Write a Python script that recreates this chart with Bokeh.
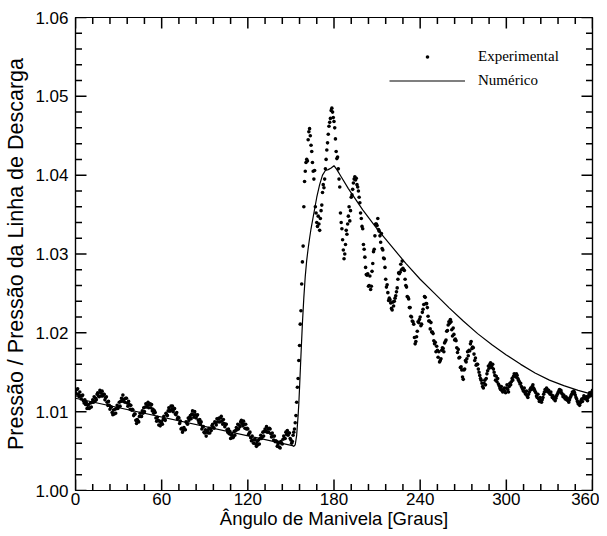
from bokeh.plotting import figure
from bokeh.models import (LinearAxis, Legend, LegendItem, ColumnDataSource,
                          PrintfTickFormatter, Range1d, SingleIntervalTicker)
from bokeh.embed import file_html
from bokeh.resources import INLINE

# ---------------- data ----------------
# Experimental: pressure ratio, sampled every 0.5 deg from 0 to 360,
# stored as (ratio - 1) * 10000
exp_step = 0.5
exp_vals = [
    127, 123, 128, 129, 122, 119, 125, 120, 116, 120, 121, 114, 111, 115, 109, 112, 104, 108, 109, 104,
    105, 111, 106, 112, 115, 112, 119, 113, 117, 115, 122, 124, 120, 119, 127, 124, 120, 126, 120, 122,
    122, 115, 118, 119, 112, 108, 113, 108, 103, 106, 106, 99, 96, 102, 97, 103, 98, 104, 108, 104,
    106, 112, 107, 113, 117, 114, 121, 113, 116, 112, 117, 117, 111, 107, 113, 109, 103, 108, 102, 103,
    102, 95, 97, 97, 89, 85, 90, 88, 87, 94, 98, 94, 94, 101, 98, 105, 100, 106, 110, 106,
    108, 112, 105, 109, 110, 105, 109, 101, 103, 98, 101, 99, 92, 88, 93, 89, 83, 88, 82, 86,
    87, 84, 90, 94, 90, 89, 98, 96, 95, 101, 105, 101, 101, 107, 103, 107, 100, 103, 104, 97,
    96, 99, 91, 93, 92, 85, 88, 78, 79, 74, 77, 80, 77, 77, 87, 86, 84, 92, 89, 93,
    95, 91, 97, 101, 96, 93, 100, 96, 92, 95, 96, 89, 86, 90, 84, 87, 78, 81, 81, 74,
    73, 77, 69, 74, 76, 73, 79, 73, 78, 76, 82, 84, 80, 79, 87, 86, 83, 91, 87, 91,
    92, 87, 92, 94, 88, 84, 90, 85, 81, 84, 84, 77, 74, 78, 72, 75, 66, 70, 71, 67,
    68, 75, 70, 76, 80, 77, 84, 78, 83, 81, 87, 89, 85, 82, 88, 84, 79, 84, 78, 79,
    78, 71, 73, 74, 67, 63, 69, 64, 60, 64, 65, 59, 56, 62, 58, 64, 59, 66, 70, 66,
    68, 74, 69, 75, 78, 75, 81, 74, 78, 74, 79, 78, 72, 68, 73, 69, 64, 69, 62, 63,
    62, 56, 59, 61, 55, 54, 62, 60, 59, 65, 69, 66, 66, 74, 71, 76, 70, 73, 73, 66,
    64, 60, 62, 70, 74, 78, 86, 95, 112, 131, 142, 165, 184, 211, 228, 262, 290, 310, 360, 392,
    405, 416, 420, 418, 445, 455, 459, 450, 438, 430, 416, 405, 395, 406, 360, 352, 340, 335, 348, 338,
    330, 345, 355, 362, 378, 388, 384, 395, 408, 420, 432, 441, 452, 462, 467, 472, 482, 485, 480, 473,
    468, 460, 446, 430, 421, 423, 408, 395, 385, 352, 340, 332, 318, 305, 294, 300, 312, 330, 325, 338,
    348, 360, 342, 355, 372, 375, 382, 390, 395, 398, 394, 396, 388, 385, 380, 372, 365, 352, 345, 335,
    332, 312, 306, 296, 283, 274, 273, 275, 259, 260, 272, 255, 259, 278, 288, 303, 306, 323, 338, 338,
    336, 345, 331, 329, 323, 315, 326, 307, 305, 295, 294, 283, 268, 258, 261, 251, 241, 244, 242, 238,
    231, 229, 239, 234, 240, 244, 247, 252, 257, 268, 276, 275, 277, 287, 280, 291, 282, 280, 279, 268,
    260, 258, 246, 245, 243, 232, 232, 221, 220, 215, 214, 211, 194, 186, 189, 195, 202, 214, 213, 217,
    220, 209, 211, 226, 230, 236, 246, 245, 237, 237, 232, 221, 215, 215, 205, 213, 201, 201, 199, 190,
    186, 188, 176, 183, 178, 169, 176, 163, 165, 167, 178, 181, 180, 176, 187, 189, 191, 202, 203, 210,
    214, 212, 217, 214, 204, 196, 206, 198, 191, 192, 190, 181, 175, 179, 168, 169, 156, 157, 153, 144,
    141, 153, 154, 165, 163, 167, 176, 171, 178, 177, 186, 189, 180, 182, 181, 173, 165, 168, 159, 160,
    160, 154, 150, 146, 142, 140, 136, 132, 130, 136, 140, 134, 142, 148, 152, 158, 155, 160, 162, 158,
    156, 160, 154, 150, 146, 140, 145, 138, 142, 135, 133, 130, 128, 132, 127, 125, 128, 130, 126, 124,
    130, 134, 128, 125, 132, 136, 134, 138, 142, 140, 145, 148, 146, 144, 148, 146, 142, 140, 138, 135,
    136, 132, 130, 128, 126, 130, 124, 122, 126, 120, 118, 122, 125, 128, 130, 128, 132, 134, 130, 128,
    126, 124, 120, 118, 122, 116, 113, 118, 114, 112, 115, 118, 122, 125, 128, 126, 130, 128, 125, 127,
    124, 122, 125, 121, 118, 120, 116, 118, 114, 117, 120, 122, 124, 126, 128, 125, 127, 124, 122, 119,
    121, 118, 116, 119, 115, 117, 114, 112, 115, 118, 120, 122, 125, 123, 126, 124, 121, 118, 116, 113,
    110, 112, 108, 111, 114, 116, 113, 117, 120, 118, 116, 119, 117, 114, 118, 121, 124, 120, 122, 125,
    127,
]

# Numerical solution: crank angle [deg] and (ratio - 1) * 10000
num_angle = [0, 151, 152, 153, 154, 155, 155.5, 156, 157, 158, 159, 160, 161, 162, 163, 164,
             166, 168, 170, 172, 174, 176, 178, 180, 182, 185, 190, 200, 210, 220, 230, 240,
             250, 260, 270, 280, 290, 300, 310, 320, 330, 340, 350, 360]
num_vals = [117, 57, 56, 58, 70, 95, 110, 130, 172, 212, 245, 272, 292, 307, 320, 332,
            352, 372, 388, 400, 406, 407, 409, 412, 407, 398, 383, 356, 332, 310, 288, 268,
            250, 232, 215, 199, 185, 172, 160, 149, 140, 133, 127, 122]

x_min, x_max, x_major, x_minor = 0, 360, 60, 12
y_min, y_max, y_major, y_minor = 1.00, 1.06, 0.01, 0.002

exp_angle = [i * exp_step for i in range(len(exp_vals))]
exp_ratio = [1 + v / 10000 for v in exp_vals]
num_ratio = [1 + v / 10000 for v in num_vals]

# ---------------- figure ----------------
SANS = "Liberation Sans"
SERIF = "Liberation Serif"
W, H = 599, 536
BL, BR, BT, BB = 75, 7, 17, 46
FRAME_W, FRAME_H = W - BL - BR, H - BT - BB
MAJ_LEN, MIN_LEN = 11, 6.5   # tick lengths in pixels

p = figure(width=W, height=H, x_range=Range1d(x_min, x_max), y_range=Range1d(y_min, y_max),
           output_backend="svg", toolbar_location=None,
           min_border_left=BL, min_border_right=BR, min_border_top=BT, min_border_bottom=BB)
p.grid.visible = False
p.outline_line_color = "black"
p.outline_line_width = 1.2
p.background_fill_color = "white"
p.border_fill_color = "white"

src_exp = ColumnDataSource(dict(x=exp_angle, y=exp_ratio))
src_num = ColumnDataSource(dict(x=num_angle, y=num_ratio))

r_exp = p.scatter(x="x", y="y", source=src_exp, size=3.6, color="black", line_width=0)
r_num = p.line(x="x", y="y", source=src_num, line_color="black", line_width=1.2)

# inward tick marks on all four sides
n_x = int(round((x_max - x_min) / x_minor))
n_y = int(round((y_max - y_min) / y_minor))
xt_all = [x_min + i * x_minor for i in range(n_x + 1)]
yt_all = [y_min + i * y_minor for i in range(n_y + 1)]
ratio_x = x_major / x_minor
ratio_y = y_major / y_minor
xt_len = [(MAJ_LEN if i % round(ratio_x) == 0 else MIN_LEN) for i in range(n_x + 1)]
yt_len = [(MAJ_LEN if i % round(ratio_y) == 0 else MIN_LEN) for i in range(n_y + 1)]
dy_per_px = (y_max - y_min) / FRAME_H
dx_per_px = (x_max - x_min) / FRAME_W

tx0, ty0, tx1, ty1 = [], [], [], []
for xv, L in zip(xt_all, xt_len):
    tx0 += [xv, xv]
    tx1 += [xv, xv]
    ty0 += [y_min, y_max]
    ty1 += [y_min + L * dy_per_px, y_max - L * dy_per_px]
for yv, L in zip(yt_all, yt_len):
    ty0 += [yv, yv]
    ty1 += [yv, yv]
    tx0 += [x_min, x_max]
    tx1 += [x_min + L * dx_per_px, x_max - L * dx_per_px]
ticks_src = ColumnDataSource(dict(x0=tx0, y0=ty0, x1=tx1, y1=ty1))
p.segment(x0="x0", y0="y0", x1="x1", y1="y1", source=ticks_src,
          line_color="#000000", line_width=1.5, line_alpha=1.0)


def style_axis(ax, labels=True):
    ax.axis_line_color = "black"
    ax.axis_line_width = 1.2
    ax.major_tick_line_color = None
    ax.minor_tick_line_color = None
    ax.major_tick_in = 0
    ax.major_tick_out = 0
    ax.minor_tick_in = 0
    ax.minor_tick_out = 0
    if labels:
        ax.major_label_text_font = SANS
        ax.major_label_text_font_size = "17px"
        ax.major_label_text_color = "black"
        ax.axis_label_text_font = SANS
        ax.axis_label_text_font_style = "normal"
        ax.axis_label_text_color = "black"
    else:
        ax.major_label_text_font_size = "0px"
        ax.major_label_standoff = 0
        ax.axis_label = None


xa = p.xaxis[0]
xa.ticker = SingleIntervalTicker(interval=x_major, num_minor_ticks=5)
xa.axis_label = "Ângulo de Manivela [Graus]"
style_axis(xa)
xa.axis_label_text_font_size = "18.5px"
xa.major_label_standoff = 2
xa.axis_label_standoff = 0

ya = p.yaxis[0]
ya.ticker = SingleIntervalTicker(interval=y_major, num_minor_ticks=5)
ya.formatter = PrintfTickFormatter(format="%.2f")
ya.axis_label = "Pressão / Pressão da Linha de Descarga"
style_axis(ya)
ya.axis_label_text_font_size = "21.5px"
ya.major_label_standoff = 7
ya.axis_label_standoff = 4

top = LinearAxis(ticker=SingleIntervalTicker(interval=x_major, num_minor_ticks=5))
style_axis(top, labels=False)
p.add_layout(top, "above")
right = LinearAxis(ticker=SingleIntervalTicker(interval=y_major, num_minor_ticks=5))
style_axis(right, labels=False)
p.add_layout(right, "right")

legend = Legend(items=[LegendItem(label="Experimental", renderers=[r_exp]),
                       LegendItem(label="Numérico", renderers=[r_num])],
                location=(314, 400), glyph_width=76, glyph_height=9, label_height=20,
                spacing=4, padding=0, margin=0, border_line_color=None,
                background_fill_alpha=0, label_text_font=SERIF,
                label_text_font_size="15px", label_standoff=13, label_text_color="black")
p.add_layout(legend)

open("out.html", "w").write(file_html(p, INLINE))
